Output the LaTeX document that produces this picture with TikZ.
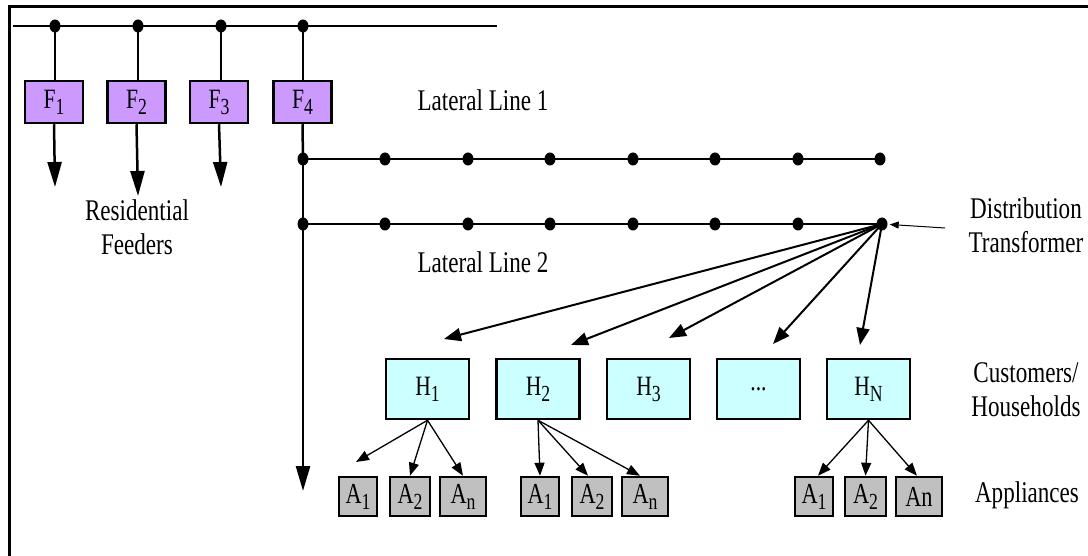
\documentclass[tikz,border=0pt]{standalone}
\usepackage{fontspec}
\setmainfont{Liberation Serif}[FakeStretch=0.77]
\usetikzlibrary{arrows.meta,shapes.geometric}
\definecolor{fpurple}{RGB}{204,153,255}
\definecolor{hcyan}{RGB}{204,255,255}
\definecolor{agray}{RGB}{192,192,192}
\newcommand\lowsub[1]{\raisebox{-6pt}{\fontsize{23}{23}\selectfont #1}}
\begin{document}
\begin{tikzpicture}[x=1pt,y=-1pt,
  wire/.style={line width=2.5pt},
  bigarrow/.style={-{Triangle[length=25pt,width=14pt]}},
  fan/.style={line width=2pt,-{Triangle[length=17pt,width=13pt]}},
  small/.style={line width=1.3pt,-{Triangle[length=13pt,width=10pt]}},
  thinarrow/.style={line width=1pt,-{Triangle[length=9pt,width=7pt]}},
  dotnode/.style={ellipse,fill=black,inner sep=0pt,minimum width=11pt,minimum height=13pt},
  fbox/.style={draw,line width=2.5pt,fill=fpurple,minimum width=58pt,minimum height=42pt,inner sep=0pt,font=\fontsize{28}{30}\selectfont},
  hbox/.style={draw,line width=2.5pt,fill=hcyan,minimum width=83pt,minimum height=60pt,inner sep=0pt,font=\fontsize{28}{30}\selectfont},
  abox/.style={draw,line width=2.5pt,fill=agray,minimum height=39pt,inner sep=0pt,font=\fontsize{29}{30}\selectfont},
  lab/.style={align=center,font=\fontsize{30}{34}\selectfont,inner sep=0pt}
]
\useasboundingbox (0,0) rectangle (1088,556);
% frame
\draw[line width=3pt] (9,556) -- (9,7) -- (1088,7);
% bus
\coordinate (busL) at (13,26);
\coordinate (busR) at (497,26);
\draw[wire] (busL) -- (busR);
\node[dotnode] (fp1) at (55,26) {};
\node[dotnode] (fp2) at (138,26) {};
\node[dotnode] (fp3) at (221,26) {};
\node[dotnode] (fp4) at (303,26) {};
% feeders
\node[fbox] (F1) at (54,102) {F\lowsub{1}};
\node[fbox] (F2) at (136.5,102) {F\lowsub{2}};
\node[fbox] (F3) at (219,102) {F\lowsub{3}};
\node[fbox] (F4) at (302.5,102) {F\lowsub{4}};
\foreach \i in {1,...,4} \draw[wire] (fp\i.center) -- (fp\i.center |- F\i.north);
\coordinate (t1) at (55,187);
\coordinate (t2) at (138,196);
\coordinate (t3) at (221,187);
\foreach \i in {1,2,3} \draw[wire,bigarrow] (F\i.south) -- (t\i);
% lateral lines
\foreach \i/\x in {0/303,1/385,2/468,3/550,4/633,5/715,6/798,7/880}
  \node[dotnode] (a\i) at (\x,159) {};
\foreach \i/\x in {0/303,1/385,2/468,3/550,4/633,5/715,6/798,7/882}
  \node[dotnode] (b\i) at (\x,224) {};
\draw[wire] (a0.center) -- (a7.center);
\draw[wire] (b0.center) -- (b7.center);
\draw[wire] (F4.south) -- (a0.center);
\draw[wire] (a0.center) -- (b0.center);
\coordinate (ttrunk) at (303,491);
\draw[wire,bigarrow] (b0.center) -- (ttrunk);
% labels
\node[lab] (ll1) at (483,100) {Lateral Line 1};
\node[lab] (ll2) at (483,262) {Lateral Line 2};
\node[lab] (rf) at (137,227) {Residential\\Feeders};
\node[lab] (dtl) at (1026,225) {Distribution\\Transformer};
\node[lab] (chl) at (1026,390) {Customers/\\Households};
\node[lab] (apl) at (1027,495) {Appliances};
\coordinate (dtsrc) at (945,228);
\draw[thinarrow,shorten >=2pt] (dtsrc) -- (b7);
% households
\node[hbox] (H1) at (427.5,389) {H\lowsub{1}};
\node[hbox] (H2) at (538,389) {H\lowsub{2}};
\node[hbox] (H3) at (648.5,389) {H\lowsub{3}};
\node[hbox] (H4) at (758.5,389) {...};
\node[hbox] (H5) at (868.5,389) {H\lowsub{N}};
\coordinate (ht1) at (444,339);
\coordinate (ht2) at (571,345);
\coordinate (ht3) at (669,338);
\coordinate (ht4) at (773,344);
\coordinate (ht5) at (860,345);
\foreach \i in {1,...,5} \draw[fan] (b7.center) -- (ht\i);
% appliances
\node[abox,minimum width=38pt] (g1a) at (358,496.5) {A\lowsub{1}};
\node[abox,minimum width=40pt] (g1b) at (410,496.5) {A\lowsub{2}};
\node[abox,minimum width=46pt] (g1c) at (463,496.5) {A\lowsub{n}};
\node[abox,minimum width=38pt] (g2a) at (540,496.5) {A\lowsub{1}};
\node[abox,minimum width=40pt] (g2b) at (592,496.5) {A\lowsub{2}};
\node[abox,minimum width=46pt] (g2c) at (645,496.5) {A\lowsub{n}};
\node[abox,minimum width=38pt] (g3a) at (814,496.5) {A\lowsub{1}};
\node[abox,minimum width=41pt] (g3b) at (865.5,496.5) {A\lowsub{2}};
\node[abox,minimum width=46pt] (g3c) at (919,496.5) {An};
\coordinate (g1tip) at (356,462);
\draw[small] (H1.south) -- (g1tip);
\draw[small] (H1.south) -- (g1b.north);
\draw[small] (H1.south) -- (g1c.north);
\draw[small] (H2.south) -- (g2a.north);
\draw[small] (H2.south) -- ([xshift=-4pt]g2b.north);
\draw[small] (H2.south) -- ([xshift=-5pt]g2c.north);
\draw[small] (H5.south) -- ([xshift=4pt]g3a.north);
\draw[small] (H5.south) -- (g3b.north);
\draw[small] (H5.south) -- ([xshift=-2pt]g3c.north);
\end{tikzpicture}
\end{document}
